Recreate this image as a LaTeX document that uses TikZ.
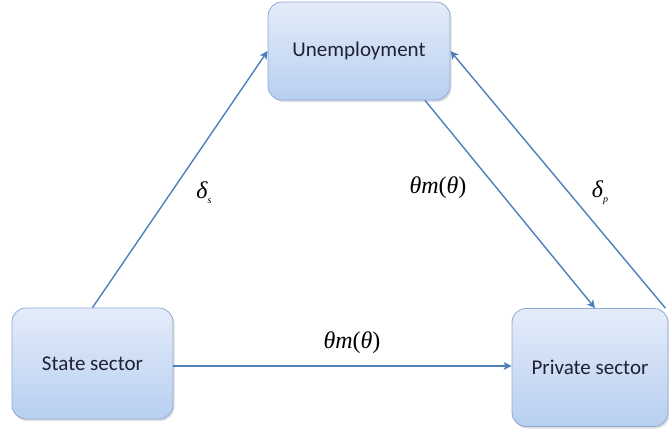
\documentclass[tikz,border=0pt]{standalone}
\usepackage{fontspec}
\setmainfont{Carlito}
\newfontfamily\labelfont{Liberation Serif}
\usetikzlibrary{arrows.meta,shadows}
\definecolor{flowblue}{HTML}{4F7FBA}
\definecolor{boxline}{HTML}{8EA9D6}
\definecolor{boxtop}{HTML}{E4ECF9}
\definecolor{boxbottom}{HTML}{B8CFF1}
\definecolor{boxtext}{HTML}{1E2233}
\tikzset{
  sector/.style={draw=boxline, line width=0.8pt, rounded corners=14pt,
    top color=boxtop, bottom color=boxbottom, text=boxtext,
    font=\fontsize{21}{23}\selectfont,
    drop shadow={opacity=0.25, shadow xshift=1.5pt, shadow yshift=-2pt}},
  flow/.style={draw=flowblue, line width=1.4pt, -{Stealth[length=8pt,width=8pt,inset=2pt]}},
  rate/.style={font=\labelfont\fontsize{24}{26}\selectfont\itshape, inner sep=0pt}
}
\begin{document}
\begin{tikzpicture}[x=1pt, y=-1pt]
\useasboundingbox (0,0) rectangle (669,429);
\node [sector, minimum width=182pt, minimum height=98pt] (unemp) at (359,51) {Unemployment};
\node [sector, minimum width=161pt, minimum height=111pt] (state) at (92.5,363.5) {State sector};
\node [sector, minimum width=156pt, minimum height=118pt] (priv) at (590,367.5) {Private sector};
\draw [flow] (state.north) -- (unemp.west);
\draw [flow] ([xshift=66pt]unemp.south) -- ([xshift=5pt]priv.north);
\draw [flow] ([xshift=-3pt]priv.north east) -- (unemp.east);
\draw [flow] ([yshift=-2.5pt]state.east) -- ([yshift=-2.5pt]state.east -| priv.west);
\node [rate] (ds) at (204,193) {δ\raisebox{-0.45ex}{\fontsize{10}{10}\selectfont s}};
\node [rate] (tm1) at (438,188) {θm\textup{(}θ\textup{)}};
\node [rate] (dp) at (600,193) {δ\raisebox{-0.45ex}{\fontsize{10}{10}\selectfont p}};
\node [rate] (tm2) at (352,343) {θm\textup{(}θ\textup{)}};
\end{tikzpicture}
\end{document}
